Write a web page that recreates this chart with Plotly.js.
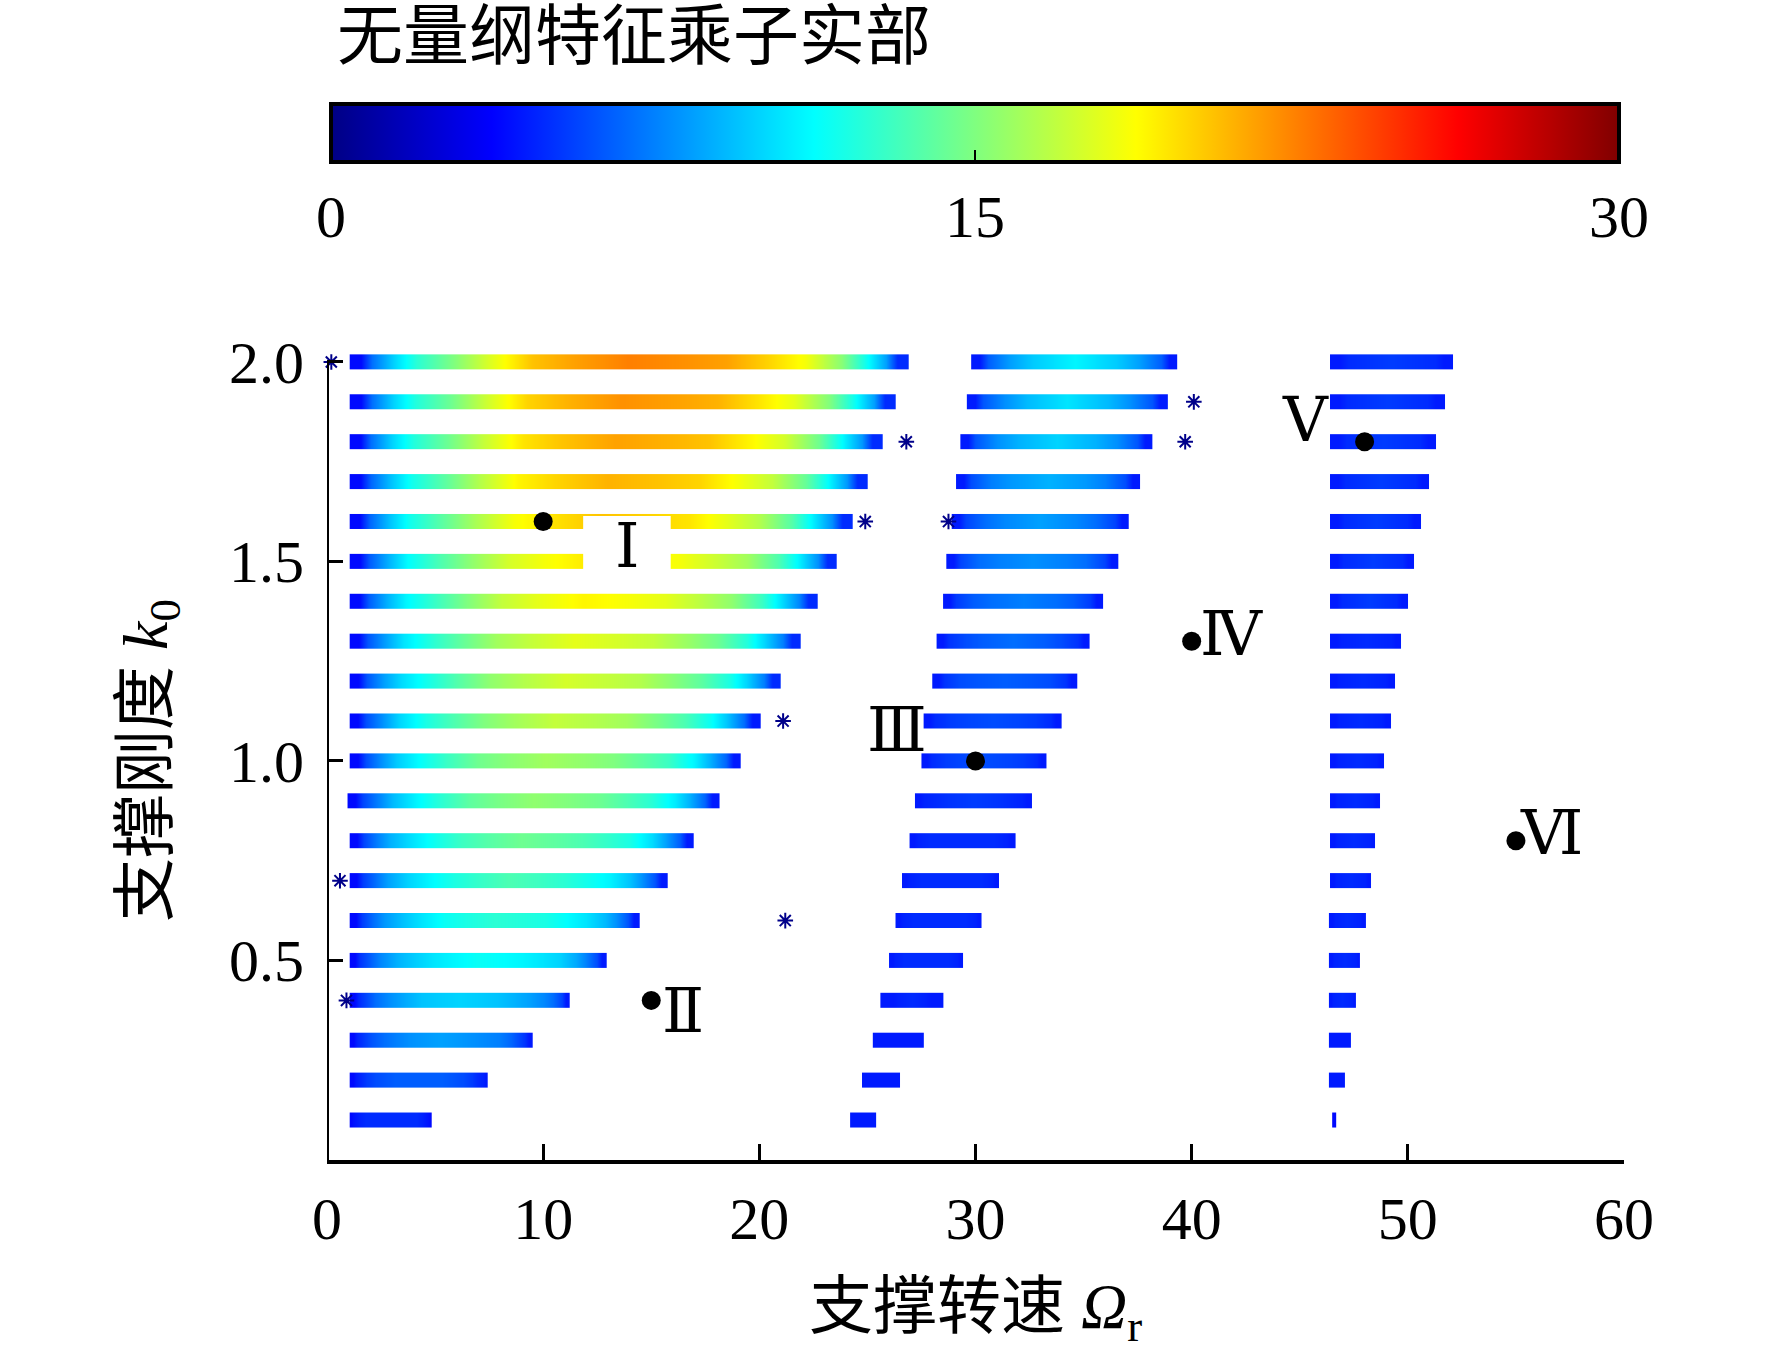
<!DOCTYPE html>
<html>
<head>
<meta charset="utf-8">
<script src="https://cdn.plot.ly/plotly-3.0.1.min.js"></script>
<style>html,body{margin:0;padding:0;background:#fff;}#chart{width:1772px;height:1358px;}</style>
</head>
<body>
<div id="chart"></div>
<script>
// ---- data ----
const kRows = [2.0,1.9,1.8,1.7,1.6,1.5,1.4,1.3,1.2,1.1,1.0,0.9,0.8,0.7,0.6,0.5,0.4,0.3,0.2,0.1];

// branch 1 (left): start / end of each row and colour readings along it
const leftStart = [1.05,1.05,1.05,1.05,1.05,1.05,1.05,1.05,1.05,1.05,1.05,0.95,1.05,1.05,1.05,1.05,1.05,1.05,1.05,1.05];
const leftEnd   = [26.9,26.3,25.7,25.0,24.3,23.6,22.7,21.9,21.0,20.05,19.15,18.15,16.95,15.75,14.45,12.95,11.25,9.5,7.45,4.85];
const leftVals = [
  [4,10,15,20.5,22.5,21.5,18.5,12,5],
  [4,10,14.5,20,22,21,18,12,5],
  [4,10,14.5,19.5,21.5,20.5,17.5,11.5,5],
  [4,9.5,14,19,21,20,17,11.5,5],
  [4,9.5,14,18.5,20.5,19.5,16.5,11,5],
  [4,9,13.5,17.5,19.5,18.5,16,11,5],
  [4,9,13,17,19,18,15.5,10.5,5],
  [4,8.5,12.5,16,18,17,14.5,10,5],
  [4,8.5,12,15.5,17.5,16.5,14,10,5],
  [4,8,12,15,17,16,13.5,9.5,4.5],
  [4,8,11.5,14.5,16,15,13,9,4.5],
  [4,7.5,11,14,15.5,14.5,12.5,9,4.5],
  [4,7.5,10.5,13,14.5,13.5,12,8.5,4.5],
  [4,7,10,12,13.5,12.5,11,8,4.5],
  [4,7,9.5,11.5,12.5,12,10.5,8,4.5],
  [4,6.5,9,10.5,11.5,11,10,7.5,4.5],
  [4,6,8,9.5,10,9.5,8.5,7,4.5],
  [4,5.5,7,8,8.5,8,7.5,6,4.5],
  [4,5,6,6.5,6.5,6.5,6,5,4.5],
  [4,4.5,5,5,5,5,5,4.5,4]
];

// branch 2 (middle)
const midStart = [29.8,29.6,29.3,29.1,28.9,28.65,28.5,28.2,28.0,27.6,27.5,27.2,26.95,26.6,26.3,26.0,25.6,25.25,24.75,24.2];
const midEnd   = [39.35,38.9,38.2,37.6,37.1,36.6,35.9,35.3,34.7,34.0,33.3,32.6,31.85,31.1,30.3,29.4,28.5,27.6,26.5,25.4];
const midVals = [
  [4.5,8.5,11,8.5,4.5],[4.5,8,10.5,8,4.5],[4.5,8,10,8,4.5],[4.5,7.5,9,7.5,4.5],[4.5,7,8.5,7,4.5],
  [4.5,7,8,7,4.5],[4.5,6.5,7.5,6.5,4.5],[4.5,6,7,6,4.5],[4.5,6,6.5,6,4.5],[4.5,5.5,6,5.5,4.5],
  [4.5,5.5,6,5.5,4.5],[4.5,5,5.5,5,4.5],[4.5,5,5,5,4.5],[4.5,5,5,5,4.5],[4.5,5,5,5,4.5],
  [4.5,5,5,5,4.5],[4.5,4.5,5,4.5,4.5],[4.5,4.5,4.5,4.5,4.5],[4.5,4.5,4.5,4.5,4.5],[4.5,4.5,4.5,4.5,4.5]
];

// branch 3 (right)
const rightStart = [46.4,46.4,46.4,46.4,46.4,46.4,46.4,46.4,46.4,46.4,46.4,46.4,46.4,46.4,46.35,46.35,46.35,46.35,46.35,46.5];
const rightEnd   = [52.1,51.7,51.3,51.0,50.6,50.3,50.0,49.7,49.4,49.2,48.9,48.7,48.5,48.3,48.05,47.8,47.6,47.35,47.1,46.7];
const rightVals = [
  [4.5,5.5,4.5],[4.5,5.5,4.5],[4.5,5.5,4.5],[4.5,5.5,4.5],[4.5,5.5,4.5],[4.5,5.5,4.5],[4.5,5.5,4.5],[4.5,5,4.5],[4.5,5,4.5],[4.5,5,4.5],
  [4.5,5,4.5],[4.5,5,4.5],[4.5,5,4.5],[4.5,5,4.5],[4.5,5,4.5],[4.5,5,4.5],[4.5,5,4.5],[4.5,4.5,4.5],[4.5,4.5,4.5],[4,4,4]
];

// isolated asterisk points
const starX = [0.2,26.8,24.9,21.1,0.6,21.2,0.9,40.1,39.7,28.75];
const starY = [2.0,1.8,1.6,1.1,0.7,0.6,0.4,1.9,1.8,1.6];

// marked points and their labels
const pointX = [10,15,30,40,48,55];
const pointY = [1.6,0.4,1.0,1.3,1.8,0.8];
const pointLabels = ['Ⅰ','Ⅱ','Ⅲ','Ⅳ','Ⅴ','Ⅵ'];
const labelX = [13.9,16.45,26.35,41.85,45.25,56.65];
const labelY = [1.54,0.375,1.08,1.32,1.855,0.82];

const xTicks = [0,10,20,30,40,50,60];
const yTicks = [0.5,1.0,1.5,2.0];
const cbTicks = [0,15,30];

const xTitle = '支撑转速 <i>Ω</i><sub>r</sub>';
const yTitle = '支撑刚度 <i>k</i><sub>0</sub>';
const cbTitle = '无量纲特征乘子实部';

// ---- drawing ----
const FONT = 'Liberation Serif, Noto Sans CJK SC, serif';
const HALF = 0.019; // half thickness of a row band (k units)
// where the colour cells sit along a row (fraction of its length)
const LEFT_EDGES = [0,0.04,0.12,0.25,0.4,0.6,0.75,0.88,0.96,1];
const MID_EDGES = [0,0.08,0.3,0.7,0.92,1];
const RIGHT_EDGES = [0,0.15,0.85,1];

function rowTrace(k, x0, x1, vals, fr) {
  const edges = fr.map(f => x0 + (x1 - x0) * f);
  return {
    type: 'heatmap', x: edges, y: [k - HALF, k, k + HALF], z: [vals, vals],
    coloraxis: 'coloraxis', zsmooth: 'best', hoverinfo: 'skip'
  };
}

const traces = [];
kRows.forEach((k, i) => {
  traces.push(rowTrace(k, leftStart[i], leftEnd[i], leftVals[i], LEFT_EDGES));
  traces.push(rowTrace(k, midStart[i], midEnd[i], midVals[i], MID_EDGES));
  traces.push(rowTrace(k, rightStart[i], rightEnd[i], rightVals[i], RIGHT_EDGES));
});

traces.push({
  type: 'scatter', mode: 'markers', x: starX, y: starY, cliponaxis: false, hoverinfo: 'skip',
  marker: {symbol: 'asterisk-open', size: 13, color: '#00008a', line: {color: '#00008a', width: 2}}
});
traces.push({
  type: 'scatter', mode: 'markers', x: pointX, y: pointY, cliponaxis: false, hoverinfo: 'skip',
  marker: {symbol: 'circle', size: 19, color: '#000'}
});

const H_TOP = 342, H_BOT = 1160, PH = H_BOT - H_TOP;
const py = p => (H_BOT - p) / PH;

const annotations = pointLabels.map((t, i) => ({
  x: labelX[i], y: labelY[i], xref: 'x', yref: 'y', text: t, showarrow: false,
  xanchor: 'center', yanchor: 'middle',
  font: {family: 'DejaVu Serif, Liberation Serif, Noto Sans CJK SC, serif', size: 62, color: '#000'}
}));
annotations.push({
  x: 0.5, y: py(1311), xref: 'paper', yref: 'paper', text: xTitle, showarrow: false,
  xanchor: 'center', yanchor: 'middle', font: {family: FONT, size: 64, color: '#000'}
});
annotations.push({
  x: (150 - 327) / 1297, y: py(761), xref: 'paper', yref: 'paper', text: yTitle, showarrow: false,
  textangle: -90, xanchor: 'center', yanchor: 'middle', font: {family: FONT, size: 64, color: '#000'}
});
annotations.push({
  x: (335 - 327) / 1297, y: py(36), xref: 'paper', yref: 'paper', text: cbTitle, showarrow: false,
  xanchor: 'left', yanchor: 'middle', font: {family: FONT, size: 66, color: '#000'}
});

const layout = {
  width: 1772, height: 1358,
  margin: {l: 327, r: 148, t: H_TOP, b: 1358 - H_BOT},
  paper_bgcolor: '#fff', plot_bgcolor: '#fff',
  showlegend: false,
  font: {family: FONT, size: 60, color: '#000'},
  xaxis: {
    range: [0, 60], tickvals: xTicks, ticks: 'inside', ticklen: 16, tickwidth: 3, tickcolor: '#000',
    showline: true, linewidth: 4, linecolor: '#000', showgrid: false, zeroline: false,
    tickfont: {family: FONT, size: 60, color: '#000'}, ticklabelstandoff: 3
  },
  yaxis: {
    range: [0, 2.05], tickvals: yTicks, tickformat: '.1f', ticks: 'inside', ticklen: 16, tickwidth: 3,
    tickcolor: '#000', showline: false, showgrid: false, zeroline: false,
    tickfont: {family: FONT, size: 60, color: '#000'}, ticklabelstandoff: 22
  },
  coloraxis: {
    cmin: 0, cmax: 30,
    colorscale: [[0,'rgb(0,0,132)'],[0.125,'rgb(0,0,255)'],[0.375,'rgb(0,255,255)'],
                 [0.625,'rgb(255,255,0)'],[0.875,'rgb(255,0,0)'],[1,'rgb(128,0,0)']],
    colorbar: {
      orientation: 'h', x: (975 - 327) / 1297, xanchor: 'center', lenmode: 'pixels', len: 1288,
      thicknessmode: 'pixels', thickness: 58, y: py(104), yanchor: 'top', ypad: 0, xpad: 0,
      outlinewidth: 4, outlinecolor: '#000', tickvals: cbTicks, ticks: 'inside', ticklen: 14,
      tickwidth: 2, tickcolor: '#000', tickfont: {family: FONT, size: 60, color: '#000'},
      title: {text: ''}
    }
  },
  shapes: [
    {type: 'line', xref: 'x', yref: 'y', x0: 0, x1: 0, y0: 0, y1: 2.0, line: {color: '#000', width: 4}},
    {type: 'rect', xref: 'x', yref: 'y', x0: 11.85, x1: 15.9, y0: 1.47, y1: 1.614, fillcolor: '#fff', line: {width: 0}, layer: 'above'}
  ],
  annotations: annotations
};

Plotly.newPlot('chart', traces, layout, {staticPlot: true, displayModeBar: false});
</script>
</body>
</html>
